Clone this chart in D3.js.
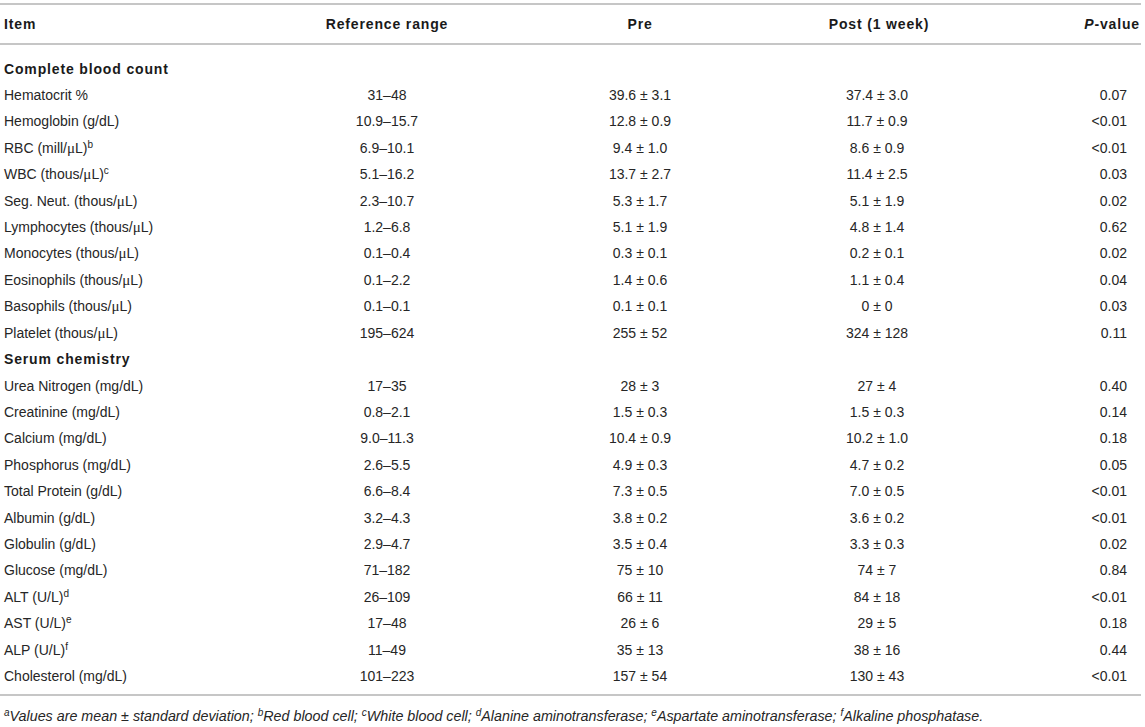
<!DOCTYPE html>
<html>
<head>
<meta charset="utf-8">
<script src="https://cdn.jsdelivr.net/npm/d3@7"></script>
<style>
  body { margin: 0; background: #fff; }
  text { font-family: "Liberation Sans", Arial, Helvetica, sans-serif; }
</style>
</head>
<body>
<script>
// table values
const headers = ["Item", "Reference range", "Pre", "Post (1 week)", "P-value"];
const sections = ["Complete blood count", "Serum chemistry"];

const cbcItems = ["Hematocrit %", "Hemoglobin (g/dL)", "RBC (mill/μL)", "WBC (thous/μL)", "Seg. Neut. (thous/μL)",
  "Lymphocytes (thous/μL)", "Monocytes (thous/μL)", "Eosinophils (thous/μL)", "Basophils (thous/μL)", "Platelet (thous/μL)"];
const serumItems = ["Urea Nitrogen (mg/dL)", "Creatinine (mg/dL)", "Calcium (mg/dL)", "Phosphorus (mg/dL)",
  "Total Protein (g/dL)", "Albumin (g/dL)", "Globulin (g/dL)", "Glucose (mg/dL)", "ALT (U/L)", "AST (U/L)",
  "ALP (U/L)", "Cholesterol (mg/dL)"];
const itemNotes = ["", "", "b", "c", "", "", "", "", "", "",
  "", "", "", "", "", "", "", "", "d", "e", "f", ""];

const refRange = ["31–48", "10.9–15.7", "6.9–10.1", "5.1–16.2", "2.3–10.7", "1.2–6.8", "0.1–0.4", "0.1–2.2", "0.1–0.1", "195–624",
  "17–35", "0.8–2.1", "9.0–11.3", "2.6–5.5", "6.6–8.4", "3.2–4.3", "2.9–4.7", "71–182", "26–109", "17–48", "11–49", "101–223"];
const preMean = ["39.6", "12.8", "9.4", "13.7", "5.3", "5.1", "0.3", "1.4", "0.1", "255",
  "28", "1.5", "10.4", "4.9", "7.3", "3.8", "3.5", "75", "66", "26", "35", "157"];
const preSD = ["3.1", "0.9", "1.0", "2.7", "1.7", "1.9", "0.1", "0.6", "0.1", "52",
  "3", "0.3", "0.9", "0.3", "0.5", "0.2", "0.4", "10", "11", "6", "13", "54"];
const postMean = ["37.4", "11.7", "8.6", "11.4", "5.1", "4.8", "0.2", "1.1", "0", "324",
  "27", "1.5", "10.2", "4.7", "7.0", "3.6", "3.3", "74", "84", "29", "38", "130"];
const postSD = ["3.0", "0.9", "0.9", "2.5", "1.9", "1.4", "0.1", "0.4", "0", "128",
  "4", "0.3", "1.0", "0.2", "0.5", "0.2", "0.3", "7", "18", "5", "16", "43"];
const pValues = ["0.07", "<0.01", "<0.01", "0.03", "0.02", "0.62", "0.02", "0.04", "0.03", "0.11",
  "0.40", "0.14", "0.18", "0.05", "<0.01", "<0.01", "0.02", "0.84", "<0.01", "0.18", "0.44", "<0.01"];

const noteKeys = ["a", "b", "c", "d", "e", "f"];
const noteTexts = ["Values are mean ± standard deviation", "Red blood cell", "White blood cell",
  "Alanine aminotransferase", "Aspartate aminotransferase", "Alkaline phosphatase"];

const WIDTH = 1145;
const HEIGHT = 727;

// rows in display order: section title followed by its items
let rows = [];
rows.push({ section: sections[0] });
cbcItems.forEach((d, i) => rows.push({ idx: i, label: d }));
rows.push({ section: sections[1] });
serumItems.forEach((d, i) => rows.push({ idx: cbcItems.length + i, label: d }));

const y = d3.scalePoint().domain(d3.range(rows.length)).range([68.6, 676]);
const colX = d3.scaleOrdinal().domain(headers).range([4, 387, 640, 877, 1127]);

let svg = d3.select('body').append('svg')
  .attr('width', WIDTH)
  .attr('height', HEIGHT);

// horizontal rules
[4, 44, 695].forEach(ry => {
  svg.append('line')
    .attr('x1', 0).attr('x2', 1141)
    .attr('y1', ry).attr('y2', ry)
    .attr('stroke', '#b3b3b3')
    .attr('stroke-width', 1.6);
});

// header
const hdr = svg.append('g')
  .attr('font-weight', 'bold')
  .attr('font-size', 14)
  .attr('letter-spacing', 0.85)
  .attr('fill', '#1a1a1a');

headers.forEach((h, i) => {
  let t = hdr.append('text').attr('y', 29);
  if (i == 0) {
    t.attr('x', colX(h)).attr('text-anchor', 'start').text(h);
  } else if (i == headers.length - 1) {
    t.attr('x', 1140).attr('text-anchor', 'end');
    t.append('tspan').attr('font-style', 'italic').text('P');
    t.append('tspan').text('-value');
  } else {
    t.attr('x', colX(h) + (i == 3 ? 2 : 0)).attr('text-anchor', 'middle').text(h);
  }
});

// item label with a serif mu, like the original
function itemLabel(sel, label, note) {
  let parts = label.split('μ');
  parts.forEach((p, k) => {
    sel.append('tspan').text(p);
    if (k < parts.length - 1) {
      sel.append('tspan').attr('font-family', '"Liberation Serif", serif').attr('font-size', 15).text('μ');
    }
  });
  if (note) {
    sel.append('tspan').attr('font-size', 10).attr('dy', -5).text(note);
  }
}

const body = svg.append('g')
  .attr('font-size', 14)
  .attr('fill', '#262626');

rows.forEach((r, ri) => {
  let by = y(ri) + 5;
  if (r.section) {
    body.append('text')
      .attr('x', colX(headers[0])).attr('y', by)
      .attr('font-weight', 'bold')
      .attr('letter-spacing', 0.85)
      .attr('fill', '#1a1a1a')
      .text(r.section);
    return;
  }
  let i = r.idx;
  let t = body.append('text').attr('x', colX(headers[0])).attr('y', by);
  itemLabel(t, r.label, itemNotes[i]);

  body.append('text')
    .attr('x', colX(headers[1])).attr('y', by)
    .attr('text-anchor', 'middle')
    .text(refRange[i]);
  body.append('text')
    .attr('x', colX(headers[2])).attr('y', by)
    .attr('text-anchor', 'middle')
    .text(preMean[i] + ' ± ' + preSD[i]);
  body.append('text')
    .attr('x', colX(headers[3])).attr('y', by)
    .attr('text-anchor', 'middle')
    .text(postMean[i] + ' ± ' + postSD[i]);
  body.append('text')
    .attr('x', colX(headers[4])).attr('y', by)
    .attr('text-anchor', 'end')
    .text(pValues[i]);
});

// footnote
let foot = svg.append('text')
  .attr('x', 4).attr('y', 721)
  .attr('font-size', 14.3)
  .attr('font-style', 'italic')
  .attr('fill', '#262626');

noteKeys.forEach((k, i) => {
  foot.append('tspan').attr('font-size', 10).attr('dy', -5).text(k);
  foot.append('tspan').attr('dy', 5).text(noteTexts[i] + (i < noteKeys.length - 1 ? '; ' : '.'));
});
</script>
</body>
</html>
